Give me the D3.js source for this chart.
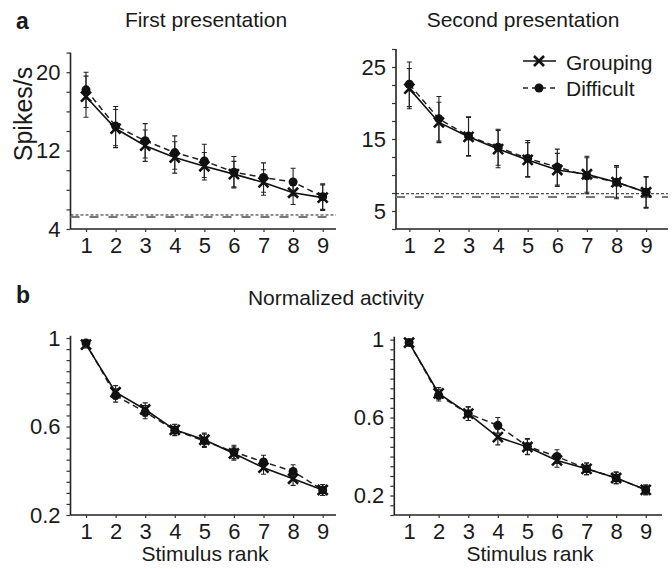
<!DOCTYPE html>
<html>
<head>
<meta charset="utf-8">
<script src="https://cdn.jsdelivr.net/npm/d3@7"></script>
<style>
  body { margin: 0; background: #fff; }
  text { font-family: "Liberation Sans", Arial, sans-serif; fill: #1a1a1a; }
</style>
</head>
<body>
<svg width="672" height="569"></svg>
<script>
  // stimulus rank 1..9
  const ranks = [1, 2, 3, 4, 5, 6, 7, 8, 9];

  // panel a, first presentation (spikes/s)
  const firstGrouping    = [17.5, 14.25, 12.5, 11.3, 10.4, 9.6, 8.75, 7.7, 7.2];
  const firstGroupingErr = [2.1, 1.95, 1.6, 1.6, 1.4, 1.3, 1.3, 1.2, 1.3];
  const firstDifficult    = [18.2, 14.5, 13.0, 11.8, 10.95, 9.8, 9.25, 8.8, 7.3];
  const firstDifficultErr = [1.8, 2.0, 1.75, 1.7, 1.7, 1.6, 1.5, 1.4, 1.3];
  const firstBaselines = [5.43, 5.22];

  // panel a, second presentation
  const secondGrouping    = [22.0, 17.3, 15.3, 13.6, 12.1, 10.7, 10.1, 9.0, 7.6];
  const secondGroupingErr = [2.8, 2.8, 2.7, 2.6, 2.4, 2.3, 2.5, 2.1, 2.2];
  const secondDifficult    = [22.6, 17.8, 15.4, 13.85, 12.3, 11.1, 9.9, 9.0, 7.6];
  const secondDifficultErr = [3.1, 3.1, 2.7, 2.5, 2.5, 2.5, 2.5, 2.3, 2.1];
  const secondBaselines = [7.4, 6.95];

  // panel b, normalized activity
  const normFirstGrouping    = [0.97, 0.755, 0.677, 0.585, 0.54, 0.478, 0.414, 0.364, 0.313];
  const normFirstGroupingErr = [0.015, 0.03, 0.03, 0.025, 0.03, 0.03, 0.03, 0.03, 0.025];
  const normFirstDifficult    = [0.977, 0.74, 0.665, 0.583, 0.535, 0.485, 0.44, 0.397, 0.313];
  const normFirstDifficultErr = [0.015, 0.03, 0.03, 0.025, 0.03, 0.03, 0.03, 0.03, 0.025];

  const normSecondGrouping    = [0.985, 0.724, 0.62, 0.50, 0.449, 0.38, 0.337, 0.29, 0.229];
  const normSecondGroupingErr = [0.015, 0.03, 0.035, 0.04, 0.04, 0.035, 0.03, 0.03, 0.025];
  const normSecondDifficult    = [0.985, 0.715, 0.62, 0.56, 0.452, 0.40, 0.337, 0.29, 0.229];
  const normSecondDifficultErr = [0.015, 0.03, 0.035, 0.04, 0.04, 0.035, 0.03, 0.03, 0.025];

  const svg = d3.select('svg');

  const cross = (g, cx, cy, s) => {
    g.append('path')
      .attr('d', `M${cx - s},${cy - s}L${cx + s},${cy + s}M${cx - s},${cy + s}L${cx + s},${cy - s}`)
      .attr('stroke', '#111').attr('stroke-width', 2.6).attr('fill', 'none');
  };

  const panel = (props) => {
    const {
      xRange, xDomain, yRange, yDomain, yStep, yLabels,
      grouping, groupingErr, difficult, difficultErr, baselines
    } = props;

    const xScale = d3.scaleLinear().domain(xDomain).range(xRange);
    const yScale = d3.scaleLinear().domain(yDomain).range(yRange);

    const g = svg.append('g');

    // axes
    const yTicks = d3.range(yDomain[0], yDomain[1] + 1e-9, yStep);
    const yAxis = d3.axisLeft(yScale)
      .tickValues(yTicks)
      .tickSize(4)
      .tickPadding(6)
      .tickFormat(d => yLabels.some(v => Math.abs(v - d) < 1e-6) ? d3.format('~g')(d) : '');
    const yAxisG = g.append('g')
      .attr('transform', `translate(${xRange[0]},0)`)
      .call(yAxis);
    yAxisG.select('.domain').attr('d', `M0,${yRange[0]}V${yRange[1]}`);

    const xAxis = d3.axisBottom(xScale)
      .tickValues(ranks)
      .tickSize(3)
      .tickPadding(5)
      .tickFormat(d3.format('d'));
    const xAxisG = g.append('g')
      .attr('transform', `translate(0,${yRange[0]})`)
      .call(xAxis);
    xAxisG.select('.domain').attr('d', `M${xRange[0]},0H${xRange[1]}`);

    g.selectAll('.domain').attr('stroke', '#222').attr('stroke-width', 1.6);
    g.selectAll('.tick line').attr('stroke', '#333').attr('stroke-width', 1.2);
    g.selectAll('.tick text').style('font-size', '22px').attr('fill', '#1a1a1a');

    // baselines
    if (baselines) {
      g.append('line')
        .attr('x1', xRange[0]).attr('x2', xRange[1])
        .attr('y1', yScale(baselines[0])).attr('y2', yScale(baselines[0]))
        .attr('stroke', '#222').attr('stroke-width', 1)
        .attr('stroke-dasharray', '3,2');
      g.append('line')
        .attr('x1', xRange[0]).attr('x2', xRange[1])
        .attr('y1', yScale(baselines[1])).attr('y2', yScale(baselines[1]))
        .attr('stroke', '#777').attr('stroke-width', 2)
        .attr('stroke-dasharray', '9,10');
    }

    const line = d3.line().x((d, i) => xScale(ranks[i])).y(d => yScale(d));

    // error bars
    const errBars = (vals, errs) => {
      vals.forEach((v, i) => {
        const x = xScale(ranks[i]);
        const y0 = yScale(v - errs[i]);
        const y1 = yScale(v + errs[i]);
        g.append('path')
          .attr('d', `M${x},${y0}V${y1}M${x - 2.5},${y0}H${x + 2.5}M${x - 2.5},${y1}H${x + 2.5}`)
          .attr('stroke', '#222').attr('stroke-width', 1.1).attr('fill', 'none');
      });
    };
    errBars(difficult, difficultErr);
    errBars(grouping, groupingErr);

    g.append('path').datum(difficult)
      .attr('d', line)
      .attr('fill', 'none').attr('stroke', '#222').attr('stroke-width', 1.5)
      .attr('stroke-dasharray', '6,4');
    g.append('path').datum(grouping)
      .attr('d', line)
      .attr('fill', 'none').attr('stroke', '#111').attr('stroke-width', 1.6);

    g.selectAll('circle.dot').data(difficult).enter().append('circle')
      .attr('class', 'dot')
      .attr('cx', (d, i) => xScale(ranks[i]))
      .attr('cy', d => yScale(d))
      .attr('r', 4.5)
      .attr('fill', '#111');

    grouping.forEach((v, i) => cross(g, xScale(ranks[i]), yScale(v), 5));
  };

  // panel a left
  panel({
    xRange: [70.5, 336], xDomain: [0.476, 9.45],
    yRange: [229, 52.6], yDomain: [4, 22], yStep: 2, yLabels: [4, 12, 20],
    grouping: firstGrouping, groupingErr: firstGroupingErr,
    difficult: firstDifficult, difficultErr: firstDifficultErr,
    baselines: firstBaselines
  });

  // panel a right
  panel({
    xRange: [396, 668], xDomain: [0.55, 9.74],
    yRange: [229, 49], yDomain: [2.5, 27.5], yStep: 2.5, yLabels: [5, 15, 25],
    grouping: secondGrouping, groupingErr: secondGroupingErr,
    difficult: secondDifficult, difficultErr: secondDifficultErr,
    baselines: secondBaselines
  });

  // panel b left
  panel({
    xRange: [70.5, 336], xDomain: [0.476, 9.45],
    yRange: [515, 335.8], yDomain: [0.2, 1.01], yStep: 0.05, yLabels: [0.2, 0.6, 1],
    grouping: normFirstGrouping, groupingErr: normFirstGroupingErr,
    difficult: normFirstDifficult, difficultErr: normFirstDifficultErr
  });

  // panel b right
  panel({
    xRange: [394.3, 662], xDomain: [0.5, 9.55],
    yRange: [515, 336.7], yDomain: [0.1, 1.015], yStep: 0.05, yLabels: [0.2, 0.6, 1],
    grouping: normSecondGrouping, groupingErr: normSecondGroupingErr,
    difficult: normSecondDifficult, difficultErr: normSecondDifficultErr
  });

  // titles and labels
  const label = (x, y, txt, size, weight, anchor) =>
    svg.append('text')
      .attr('x', x).attr('y', y)
      .attr('text-anchor', anchor || 'middle')
      .style('font-size', size + 'px')
      .style('font-weight', weight || 'normal')
      .text(txt);

  label(16, 29, 'a', 23, 'bold', 'start');
  label(16, 303, 'b', 23, 'bold', 'start');
  label(206, 27, 'First presentation', 21);
  label(523, 27, 'Second presentation', 21);
  label(336, 305, 'Normalized activity', 21);
  label(205, 561, 'Stimulus rank', 21);
  label(530, 561, 'Stimulus rank', 21);

  svg.append('text')
    .attr('transform', 'translate(32,114) rotate(-90)')
    .attr('text-anchor', 'middle')
    .style('font-size', '25px')
    .text('Spikes/s');

  // legend
  const leg = svg.append('g');
  leg.append('line').attr('x1', 523).attr('x2', 556).attr('y1', 61).attr('y2', 61)
    .attr('stroke', '#111').attr('stroke-width', 1.5);
  cross(leg, 539, 61, 5);
  leg.append('line').attr('x1', 523).attr('x2', 556).attr('y1', 88).attr('y2', 88)
    .attr('stroke', '#222').attr('stroke-width', 1.5).attr('stroke-dasharray', '5,4');
  leg.append('circle').attr('cx', 539).attr('cy', 88).attr('r', 4.5).attr('fill', '#111');
  label(566, 70, 'Grouping', 21, 'normal', 'start');
  label(566, 96, 'Difficult', 21, 'normal', 'start');
</script>
</body>
</html>
